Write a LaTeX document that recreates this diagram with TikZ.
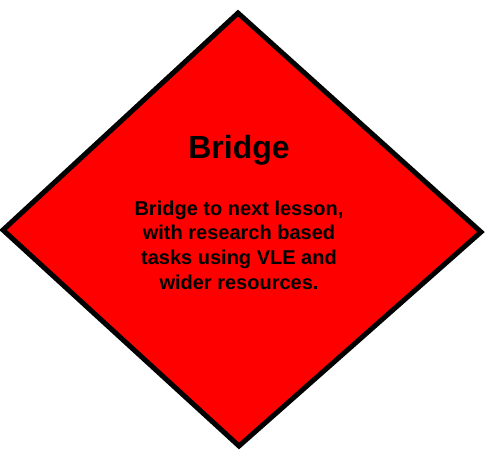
\documentclass[tikz,border=0pt]{standalone}
\usepackage{fontspec}
\setmainfont{Liberation Sans}
\usetikzlibrary{positioning}
\definecolor{bridgered}{HTML}{FF0000}

\begin{document}
\begin{tikzpicture}[
        x=1pt, y=-1pt,
        diamondbox/.style={
          draw=black,
          fill=bridgered,
          line width=5pt,
          line join=miter
        },
        headtext/.style={
          font=\fontsize{32}{36}\selectfont\bfseries,
          anchor=base
        },
        bodytext/.style={
          font=\fontsize{20}{24.7}\selectfont\bfseries,
          align=center
        }
      ]

      \useasboundingbox (0,0) rectangle (503,452);

      % the diamond
      \coordinate (top) at (238,13);
      \coordinate (right) at (481,232);
      \coordinate (bottom) at (239,446);
      \coordinate (left) at (3,230);
      \draw[diamondbox] (top) -- (right) -- (bottom) -- (left) -- cycle;

      \node[headtext] (heading) at (239,158) {Bridge};
      \node[bodytext, below=39pt of heading.base] (text) {Bridge to next lesson,\\with research based\\tasks using VLE and\\wider resources.};

      \end{tikzpicture}
\end{document}
